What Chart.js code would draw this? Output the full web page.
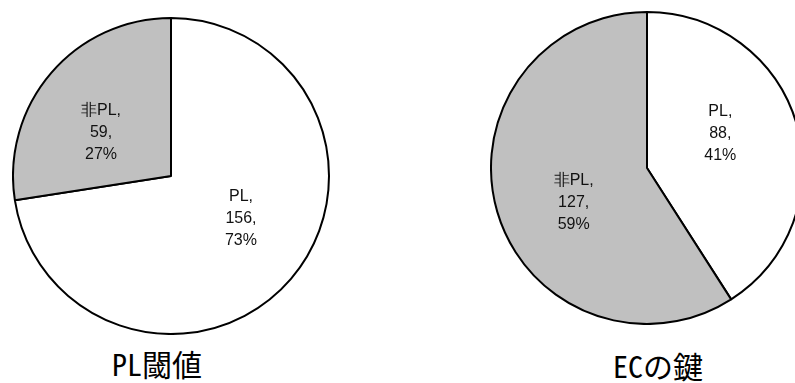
<!DOCTYPE html>
<html>
<head>
<meta charset="utf-8">
<script src="https://cdn.jsdelivr.net/npm/chart.js@4.4.1/dist/chart.umd.min.js"></script>
<style>
  html, body { margin: 0; padding: 0; background: #fff; }
  body { width: 795px; height: 383px; position: relative; overflow: hidden; }
  .pie { position: absolute; }
  .caption {
    position: absolute; width: 220px; text-align: center;
    font-family: "Noto Sans Mono CJK JP", "Noto Sans CJK JP", sans-serif;
    font-size: 30px; line-height: 30px; color: #000; white-space: nowrap;
  }
</style>
</head>
<body>
<div class="pie" id="wrapLeft" style="left:12px; top:17px; width:318px; height:318px;"><canvas id="pieLeft"></canvas></div>
<div class="pie" id="wrapRight" style="left:490px; top:11px; width:314px; height:314px;"><canvas id="pieRight"></canvas></div>
<div class="caption" id="capLeft" style="left:47px; top:348px;"></div>
<div class="caption" id="capRight" style="left:548px; top:350px;"></div>
<script>
// Categories and counts for each pie
const categories = ['PL', '非PL'];
const plThresholdValues = [156, 59];
const ecKeyValues = [88, 127];
const chartTitles = ['PL閾値', 'ECの鍵'];
const sliceColors = ['#ffffff', '#c0c0c0'];

// Writes "name, value, percent" inside each slice, stacked on three lines
const sliceLabels = {
  id: 'sliceLabels',
  afterDatasetsDraw(chart) {
    const ctx = chart.ctx;
    const ds = chart.data.datasets[0];
    const total = ds.data.reduce((a, b) => a + b, 0);
    const meta = chart.getDatasetMeta(0);
    const turn = -9 * Math.PI / 180;   // nudge labels slightly counter-clockwise
    ctx.save();
    ctx.font = '16px "Liberation Sans", Arial, sans-serif';
    ctx.fillStyle = '#111111';
    ctx.textAlign = 'center';
    ctx.textBaseline = 'middle';
    meta.data.forEach((arc, i) => {
      const p = arc.getProps(['x', 'y', 'startAngle', 'endAngle', 'outerRadius'], true);
      const mid = (p.startAngle + p.endAngle) / 2 + turn;
      const d = p.outerRadius * 0.52;
      const cx = p.x + Math.cos(mid) * d;
      const cy = p.y + Math.sin(mid) * d;
      const v = ds.data[i];
      const lines = [chart.data.labels[i] + ',', v + ',', Math.round(v / total * 100) + '%'];
      const lh = 22;
      lines.forEach((t, k) => ctx.fillText(t, cx, cy + (k - 1) * lh));
    });
    ctx.restore();
  }
};

function makePie(id, values) {
  return new Chart(document.getElementById(id), {
    type: 'pie',
    data: {
      labels: categories,
      datasets: [{
        data: values,
        backgroundColor: sliceColors,
        borderColor: '#000000',
        borderWidth: 2
      }]
    },
    options: {
      responsive: true,
      maintainAspectRatio: false,
      animation: false,
      layout: { padding: 0 },
      plugins: { legend: { display: false }, tooltip: { enabled: false }, title: { display: false } }
    },
    plugins: [sliceLabels]
  });
}

makePie('pieLeft', plThresholdValues);
makePie('pieRight', ecKeyValues);
document.getElementById('capLeft').textContent = chartTitles[0];
document.getElementById('capRight').textContent = chartTitles[1];
</script>
</body>
</html>
